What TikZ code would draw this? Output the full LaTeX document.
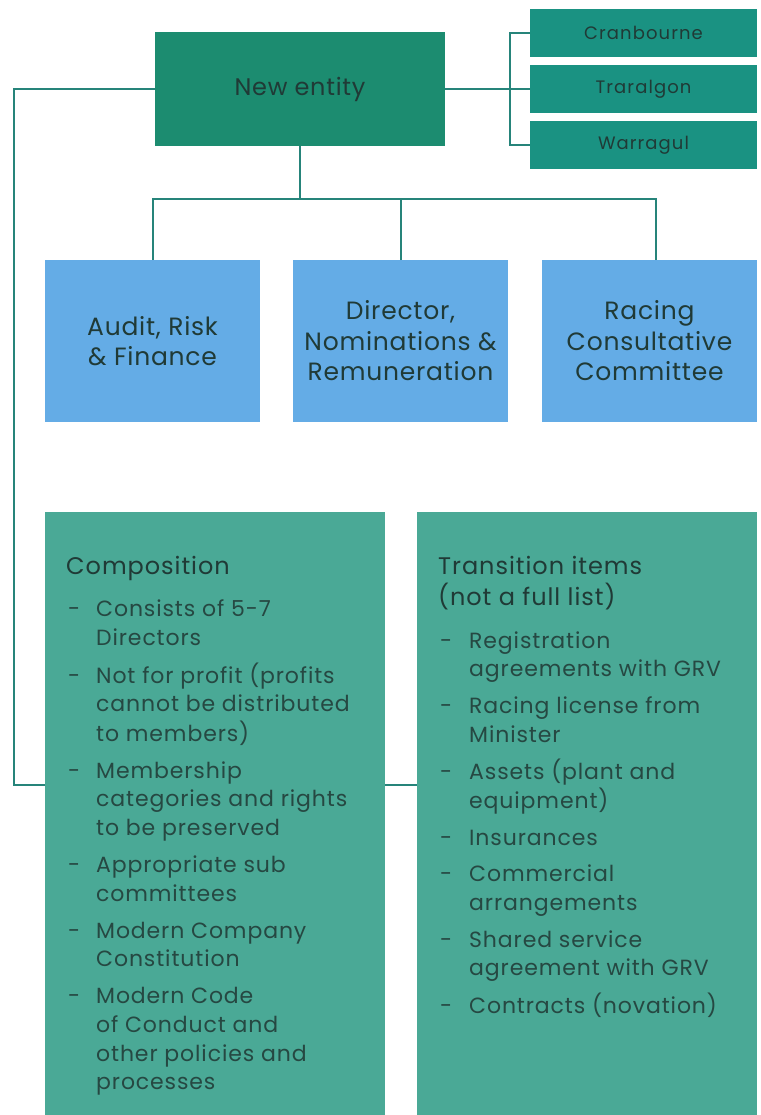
\documentclass[tikz,border=0pt]{standalone}
\usepackage{fontspec}
\setmainfont{Poppins}
\definecolor{entity}{RGB}{28,140,112}
\definecolor{site}{RGB}{26,146,130}
\definecolor{panel}{RGB}{74,169,150}
\definecolor{comm}{RGB}{100,172,230}
\definecolor{wire}{RGB}{38,132,122}
\definecolor{ink}{RGB}{32,58,54}
\definecolor{ink2}{RGB}{38,72,66}
\newcommand{\lsp}[1]{\addfontfeature{LetterSpace=#1}}
\tikzset{
  box/.style={draw=none, inner sep=0pt, outer sep=0pt, anchor=north west, text=ink},
  wire/.style={draw=wire, line width=2pt},
  sitebox/.style={box, fill=site, minimum width=227pt, minimum height=48pt, font=\fontsize{18}{22}\selectfont\lsp{6}},
  commbox/.style={box, fill=comm, minimum width=215pt, minimum height=162pt, align=center, font=\fontsize{25}{30.5}\selectfont\lsp{3}},
  panelbox/.style={box, fill=panel, minimum width=340pt, minimum height=603pt},
  listtext/.style={anchor=north west, inner sep=0pt, text=ink2, font=\fontsize{22}{28.7}\selectfont\lsp{4}},
}
\newcommand{\hd}[1]{\multicolumn{2}{@{}l@{}}{\color{ink}\fontsize{24}{28.7}\selectfont\lsp{4}#1}}
\begin{document}
\begin{tikzpicture}[x=1pt,y=-1pt]
\useasboundingbox (0,0) rectangle (760,1115);
\fill[white] (0,0) rectangle (760,1115);
% main entity
\node[box, fill=entity, minimum width=290pt, minimum height=114pt, font=\fontsize{24}{28}\selectfont\lsp{3}] (ent) at (155,32) {New entity};
% sites
\node[sitebox] (cran) at (530,9) {Cranbourne};
\node[sitebox] (tra) at (530,65) {Traralgon};
\node[sitebox] (war) at (530,121) {Warragul};
% committees
\node[commbox] (aud) at (45,260) {Audit, Risk\\\& Finance};
\node[commbox] (dir) at (293,260) {Director,\\Nominations \&\\Remuneration};
\node[commbox] (rac) at (542,260) {Racing\\Consultative\\Committee};
% panels
\node[panelbox] (comp) at (45,512) {};
\node[panelbox] (trans) at (417,512) {};
% connectors
\coordinate (bx) at (510,0);
\coordinate (hy) at (0,199);
\coordinate (lx) at (14,0);
\coordinate (ly) at (0,785);
\draw[wire] (ent.east) -- (tra.west);
\draw[wire] (cran.west) -| (war.west -| bx) -- (war.west);
\draw[wire] (ent.south) -- (ent.south |- hy);
\draw[wire] (aud.north) |- ([xshift=6pt]rac.north |- hy) -- ([xshift=6pt]rac.north);
\draw[wire] (dir.north) -- (dir.north |- hy);
\draw[wire] (ent.west) -| (lx |- ly) -- (comp.west |- ly);
\draw[wire] (comp.east |- ly) -- (trans.west |- ly);
% composition text
\node[listtext] (ctext) at ([xshift=21pt,yshift=-42pt]comp.north west) {%
\begin{tabular}{@{\hspace{2pt}}p{28pt}@{}l@{}}
\hd{Composition}\\[14pt]
- & Consists of 5-7\\
  & Directors\\[8.3pt]
- & Not for profit (profits\\
  & cannot be distributed\\
  & to members)\\[8.3pt]
- & Membership\\
  & categories and rights\\
  & to be preserved\\[8.3pt]
- & Appropriate sub\\
  & committees\\[8.3pt]
- & Modern Company\\
  & Constitution\\[8.3pt]
- & Modern Code\\
  & of Conduct and\\
  & other policies and\\
  & processes
\end{tabular}};
% transition text
\node[listtext] (ttext) at ([xshift=21pt,yshift=-42pt]trans.north west) {%
\begin{tabular}{@{\hspace{2pt}}p{29pt}@{}l@{}}
\hd{Transition items}\\
\hd{(not a full list)}\\[14pt]
- & Registration\\
  & agreements with GRV\\[8pt]
- & Racing license from\\
  & Minister\\[8pt]
- & Assets (plant and\\
  & equipment)\\[8pt]
- & Insurances\\[8pt]
- & Commercial\\
  & arrangements\\[8pt]
- & Shared service\\
  & agreement with GRV\\[8pt]
- & Contracts (novation)
\end{tabular}};
\end{tikzpicture}
\end{document}
